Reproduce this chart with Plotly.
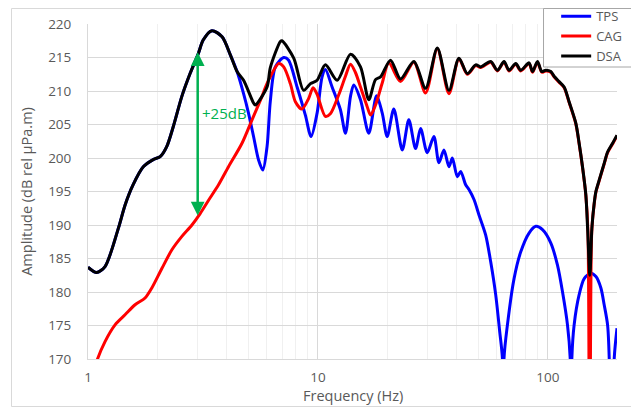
import math
import plotly.graph_objects as go

# ---------------- data ----------------
dsa_freq = [1.00, 1.09, 1.186, 1.355, 1.45, 1.57, 1.74, 1.93, 2.06, 2.20, 2.35, 2.56, 2.78, 3.02,
            3.17, 3.46, 3.83, 4.16, 4.45, 4.75, 5.25, 5.34, 6.01, 6.21, 6.87, 6.98, 7.85, 8.67,
            9.28, 9.92, 10.78, 12.13, 13.86, 15.32, 16.65, 17.81, 18.73, 20.70, 22.88, 26.15,
            29.40, 33.07, 37.16, 41.07, 44.68, 48.57, 51.06, 56.45, 60.37, 64.5, 67.83, 72.54,
            76.28, 82.89, 85.78, 90.18, 94.17, 98.0, 103.1, 106.5, 112.0, 117.8, 123.8, 132.4,
            136.9, 141.6, 146.4, 149.0, 152.4, 155.5, 159.1, 161.9, 167.3, 175.9, 182.0, 191.4, 200.0]
dsa_amp = [183.7, 182.9, 183.8, 189.5, 193.0, 196.0, 198.7, 199.8, 200.2, 201.7, 204.7, 209.2, 212.6, 215.6,
           217.6, 219.0, 218.1, 215.4, 212.9, 211.6, 208.2, 207.9, 210.6, 213.5, 217.4, 217.5, 214.9, 210.1,
           211.1, 211.6, 213.9, 211.6, 215.5, 213.6, 208.7, 211.7, 212.1, 214.6, 211.8, 214.4,
           210.4, 216.4, 210.1, 214.9, 212.6, 213.9, 213.6, 214.4, 213.1, 214.4, 213.1, 214.1,
           213.1, 214.2, 212.9, 214.4, 212.9, 213.1, 212.9, 212.2, 211.4, 210.6, 208.4, 205.2,
           202.2, 198.7, 194.5, 189.5, 182.5, 189.5, 193.2, 195.0, 196.7, 199.2, 200.9, 202.2, 203.4]

tps_freq = [1.00, 1.09, 1.186, 1.355, 1.45, 1.57, 1.74, 1.93, 2.06, 2.20, 2.35, 2.56, 2.78, 3.02,
            3.17, 3.46, 3.83, 4.16, 4.45, 4.75, 4.99, 5.25, 5.52, 5.76, 6.01, 6.21, 6.53, 7.10,
            7.46, 8.12, 8.82, 9.34, 9.92, 10.43, 10.78, 11.53, 12.53, 13.18, 13.86, 14.32, 15.32,
            16.65, 18.0, 19.05, 20.02, 21.39, 23.28, 24.86, 26.6, 27.97, 29.9, 31.96, 33.61,
            35.34, 37.16, 38.45, 40.41, 41.78, 43.93, 45.4, 47.75, 50.2, 53.69, 56.45, 59.34,
            61.77, 63.47, 64.0, 64.5, 66.74, 71.33, 76.28, 82.89, 88.67, 94.82, 103.1, 110.2,
            115.9, 121.8, 125.1, 126.2, 127.3, 130.2, 136.9, 144.0, 153.9, 161.9, 170.2, 175.9,
            182.0, 185.0, 188.5, 194.5, 200.0]
tps_amp = [183.7, 182.9, 183.8, 189.5, 193.0, 196.0, 198.7, 199.8, 200.2, 201.7, 204.7, 209.2, 212.6, 215.6,
           217.6, 219.0, 218.1, 215.4, 212.9, 209.6, 206.7, 203.2, 199.7, 198.2, 201.7, 208.5, 213.6, 215.0,
           214.6, 210.6, 206.4, 203.2, 206.7, 212.1, 213.2, 210.6, 207.2, 203.7, 209.2, 210.9, 208.7,
           203.7, 209.3, 206.7, 203.2, 207.3, 201.2, 205.7, 201.4, 204.4, 200.8, 203.2, 199.3,
           201.2, 198.7, 200.0, 197.2, 198.0, 196.0, 195.3, 193.8, 191.5, 188.5, 184.5, 179.6,
           174.1, 170.1, 150.0, 170.1, 175.1, 182.0, 186.0, 188.8, 189.8, 189.3, 187.3, 184.0,
           180.0, 175.1, 170.2, 150.0, 170.2, 175.1, 179.6, 182.0, 182.8, 182.3, 180.6, 178.1,
           175.1, 170.1, 150.0, 170.1, 174.6]

cag_freq = [1.07, 1.09, 1.186, 1.311, 1.449, 1.602, 1.771, 1.895, 2.095, 2.317, 2.561, 2.832, 3.075,
            3.345, 3.697, 4.084, 4.676, 5.17, 5.713, 6.005, 6.76, 7.10, 7.59, 7.98, 8.52, 9.12, 9.53,
            9.92, 10.78, 11.33, 12.31, 13.18, 13.86, 14.55, 15.32, 16.37, 16.95, 17.81, 19.05, 20.35,
            22.88, 26.15, 29.40, 33.07, 37.16, 41.07, 44.68, 48.57, 51.06, 56.45, 60.37, 64.5, 67.83,
            72.54, 76.28, 82.89, 85.78, 90.18, 94.17, 98.0, 103.1, 106.5, 112.0, 117.8, 123.8, 132.4,
            136.9, 141.6, 146.4, 149.5, 152.4, 155.3, 159.1, 161.9, 167.3, 175.9, 182.0, 191.4, 200.0]
cag_amp = [168.5, 169.6, 172.6, 175.1, 176.6, 178.1, 179.1, 180.6, 183.5, 186.3, 188.3, 190.0, 191.7,
           193.7, 196.0, 198.7, 202.2, 205.7, 209.2, 211.1, 214.1, 213.6, 211.1, 208.4, 207.3, 208.9, 210.5,
           209.5, 206.2, 206.6, 209.4, 212.2, 214.0, 212.8, 210.6, 207.7, 206.4, 207.9, 211.2, 214.2,
           211.4, 214.3, 209.7, 216.3, 209.6, 214.8, 212.5, 213.8, 213.5, 214.3, 213.0, 214.3, 213.0,
           214.0, 213.0, 214.1, 212.8, 214.3, 212.8, 213.0, 212.8, 212.1, 211.3, 210.5, 208.3, 205.1,
           202.1, 198.6, 194.4, 189.0, 100.0, 189.0, 193.1, 194.9, 196.6, 199.1, 200.8, 202.1, 203.3]

series_names = ["TPS", "CAG", "DSA"]
series_colors = ["#0000FF", "#FF0000", "#000000"]

y_ticks = [170, 175, 180, 185, 190, 195, 200, 205, 210, 215, 220]
x_ticks = [1, 10, 100]
x_tick_labels = ["1", "10", "100"]
x_minor = [2, 3, 4, 5, 6, 7, 8, 9, 20, 30, 40, 50, 60, 70, 80, 90, 200]

arrow_freq = 3.0
arrow_low, arrow_high = 191.2, 215.8
label_freq, label_amp = 3.08, 206.7
label_text = "+25dB"
x_title = "Frequency (Hz)"
y_title = "Amplitude (dB rel µPa.m)"

# ---------------- figure ----------------
# (the page body has an 8px default margin, so the figure is 8px smaller)
fig = go.Figure()
data = [(tps_freq, tps_amp), (cag_freq, cag_amp), (dsa_freq, dsa_amp)]
for (fx, ay_), name, col in zip(data, series_names, series_colors):
    fig.add_trace(go.Scatter(
        x=fx, y=ay_, name=name, mode="lines", legendgroup=name,
        line=dict(color=col, width=3, shape="spline", smoothing=0.8),
    ))

grey = "#595959"
fig.update_layout(
    width=631, height=402, autosize=False,
    margin=dict(l=80, r=22, t=16, b=51, autoexpand=False),
    paper_bgcolor="white", plot_bgcolor="white",
    font=dict(family="Open Sans", color=grey),
    legend=dict(x=0.885, y=1.068, xanchor="left", yanchor="top",
                bgcolor="rgba(0,0,0,0)", borderwidth=0,
                font=dict(size=13, color=grey), tracegroupgap=0),
    shapes=[
        dict(type="rect", xref="paper", yref="paper",
             x0=-0.1446, x1=1.0388, y0=-0.1418, y1=1.0463,
             line=dict(color="#d9d9d9", width=1), fillcolor="rgba(0,0,0,0)", layer="below"),
        dict(type="rect", xref="paper", yref="paper",
             x0=0.8611, x1=1.0388, y0=0.8716, y1=1.0463,
             line=dict(color="#a6a6a6", width=1), fillcolor="white", layer="above"),
    ],
)

fig.update_xaxes(
    type="log", range=[0, math.log10(200)], automargin=False,
    tickvals=x_ticks, ticktext=x_tick_labels,
    showgrid=True, gridcolor="#d9d9d9", gridwidth=1,
    minor=dict(tickvals=x_minor, showgrid=True, gridcolor="#f0f0f0", gridwidth=1, ticks=""),
    showline=True, linecolor="#d9d9d9", linewidth=1, zeroline=False,
    ticks="outside", ticklen=6, tickcolor="rgba(0,0,0,0)",
    tickfont=dict(size=13.5, color=grey),
)
fig.update_yaxes(
    range=[170, 220], tickvals=y_ticks, automargin=False,
    showgrid=True, gridcolor="#d9d9d9", gridwidth=1,
    showline=True, linecolor="#d9d9d9", linewidth=1, zeroline=False,
    ticks="outside", ticklen=13, tickcolor="rgba(0,0,0,0)",
    tickfont=dict(size=13.5, color=grey),
    title=dict(text=y_title, font=dict(size=14.5, color=grey), standoff=12),
)

fig.add_annotation(
    x=0.5, y=-0.110, xref="paper", yref="paper", text=x_title, showarrow=False,
    xanchor="center", yanchor="middle", font=dict(size=14.5, color=grey),
)
fig.add_annotation(
    x=math.log10(arrow_freq), y=arrow_high, ax=math.log10(arrow_freq), ay=arrow_low,
    xref="x", yref="y", axref="x", ayref="y", text="", showarrow=True,
    arrowhead=2, startarrowhead=2, arrowside="end+start",
    arrowsize=1.1, startarrowsize=1.1, arrowwidth=2.5, arrowcolor="#00B050",
)
fig.add_annotation(
    x=math.log10(label_freq), y=label_amp, xref="x", yref="y", text=label_text,
    showarrow=False, xanchor="left", yanchor="middle",
    font=dict(size=15, color="#00B050", family="Open Sans"),
)

fig.write_html("out.html")
